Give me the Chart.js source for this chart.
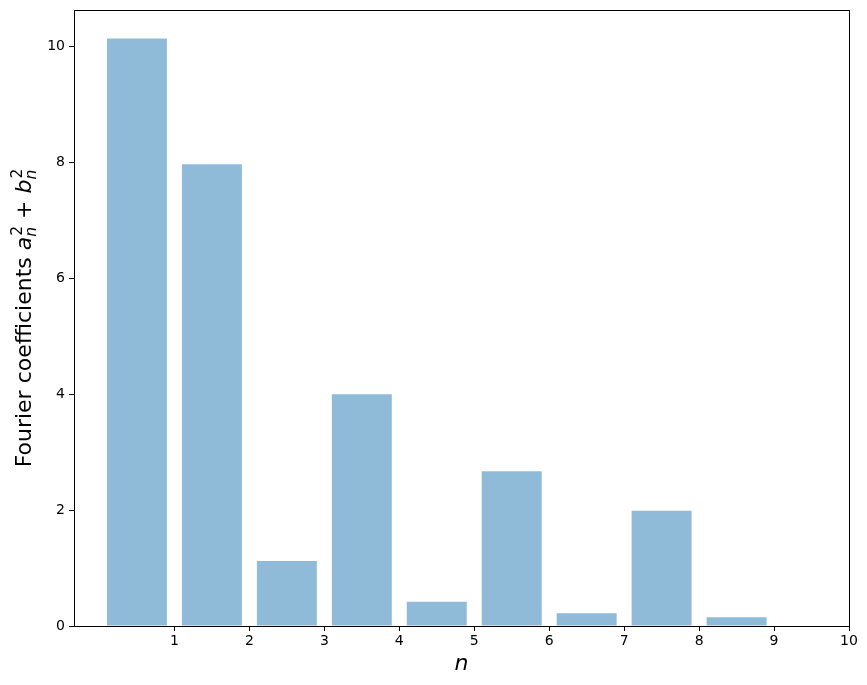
<!DOCTYPE html>
<html>
<head>
<meta charset="utf-8">
<script src="https://cdn.jsdelivr.net/npm/chart.js@4"></script>
<style>
  body { margin: 0; background: #fff; }
  #wrap { width: 867px; height: 685px; }
</style>
</head>
<body>
<div id="wrap"><canvas id="chart"></canvas></div>
<script>
// bar positions (centre of each bar) and the coefficient values
const positions = [0.5, 1.5, 2.5, 3.5, 4.5, 5.5, 6.5, 7.5, 8.5];
const coeffs = [10.14, 7.97, 1.12, 4.0, 0.42, 2.67, 0.22, 1.99, 0.15];
const xTicks = [1, 2, 3, 4, 5, 6, 7, 8, 9, 10];
const yTicks = [0, 2, 4, 6, 8, 10];

const tickFont = { family: 'DejaVu Sans', size: 14 };

// frame round the plot + axis labels (y label has sub/superscripts)
const framePlugin = {
  id: 'frame',
  afterDraw(chart) {
    const { ctx, chartArea: a } = chart;
    ctx.save();
    ctx.strokeStyle = '#000';
    ctx.lineWidth = 1;
    ctx.strokeRect(a.left + 0.5, a.top + 0.5, a.right - a.left, a.bottom - a.top);

    // x label
    ctx.fillStyle = '#000';
    ctx.font = 'italic 22px "DejaVu Sans"';
    ctx.textAlign = 'center';
    ctx.textBaseline = 'alphabetic';
    ctx.fillText('n', (a.left + a.right) / 2, 670);

    // y label, drawn in pieces
    const big = 22, small = 15.5;
    const parts = [
      { t: 'Fourier coefficients ', f: big + 'px "DejaVu Sans"' },
      { t: 'a', f: 'italic ' + big + 'px "DejaVu Sans"', sup: '2', sub: 'n' },
      { t: ' + ', f: big + 'px "DejaVu Sans"' },
      { t: 'b', f: 'italic ' + big + 'px "DejaVu Sans"', sup: '2', sub: 'n' }
    ];
    const supFont = small + 'px "DejaVu Sans"';
    const subFont = 'italic ' + small + 'px "DejaVu Sans"';
    let total = 0;
    parts.forEach(p => {
      ctx.font = p.f;
      p.w = ctx.measureText(p.t).width;
      if (p.sup) {
        ctx.font = supFont;
        const ws = ctx.measureText(p.sup).width;
        ctx.font = subFont;
        const wb = ctx.measureText(p.sub).width;
        p.extra = Math.max(ws, wb) + 1;
      } else {
        p.extra = 0;
      }
      total += p.w + p.extra;
    });
    ctx.translate(31, (a.top + a.bottom) / 2);
    ctx.rotate(-Math.PI / 2);
    ctx.textAlign = 'left';
    let x = -total / 2;
    parts.forEach(p => {
      ctx.font = p.f;
      ctx.fillText(p.t, x, 0);
      x += p.w;
      if (p.sup) {
        ctx.font = supFont;
        ctx.fillText(p.sup, x + 1, -9);
        ctx.font = subFont;
        ctx.fillText(p.sub, x, 5);
        x += p.extra;
      }
    });
    ctx.restore();
  }
};

new Chart(document.getElementById('chart'), {
  type: 'bar',
  data: {
    datasets: [{
      data: positions.map((p, i) => ({ x: p, y: coeffs[i] })),
      backgroundColor: 'rgba(31, 119, 180, 0.5)',
      borderWidth: 0,
      barPercentage: 0.8,
      categoryPercentage: 1.0
    }]
  },
  options: {
    responsive: true,
    maintainAspectRatio: false,
    animation: false,
    layout: { padding: { left: 0, top: 10, right: 18, bottom: 0 } },
    plugins: { legend: { display: false }, tooltip: { enabled: false } },
    scales: {
      x: {
        type: 'linear',
        min: -0.34,
        max: 10,
        offset: false,
        grid: { display: true, drawOnChartArea: false, drawTicks: true, tickLength: 5, color: '#000', offset: false },
        border: { display: false },
        afterBuildTicks: s => { s.ticks = xTicks.map(v => ({ value: v })); },
        afterFit: s => { s.height = 59; s.paddingLeft = 0; s.paddingRight = 0; },
        ticks: { color: '#000', font: tickFont, padding: 2, maxRotation: 0, autoSkip: false }
      },
      y: {
        min: 0,
        max: 10.63,
        grid: { display: true, drawOnChartArea: false, drawTicks: true, tickLength: 5, color: '#000' },
        border: { display: false },
        afterBuildTicks: s => { s.ticks = yTicks.map(v => ({ value: v })); },
        afterFit: s => { s.width = 74; s.paddingTop = 0; s.paddingBottom = 0; },
        ticks: { color: '#000', font: tickFont, padding: 4 }
      }
    }
  },
  plugins: [framePlugin]
});
</script>
</body>
</html>
